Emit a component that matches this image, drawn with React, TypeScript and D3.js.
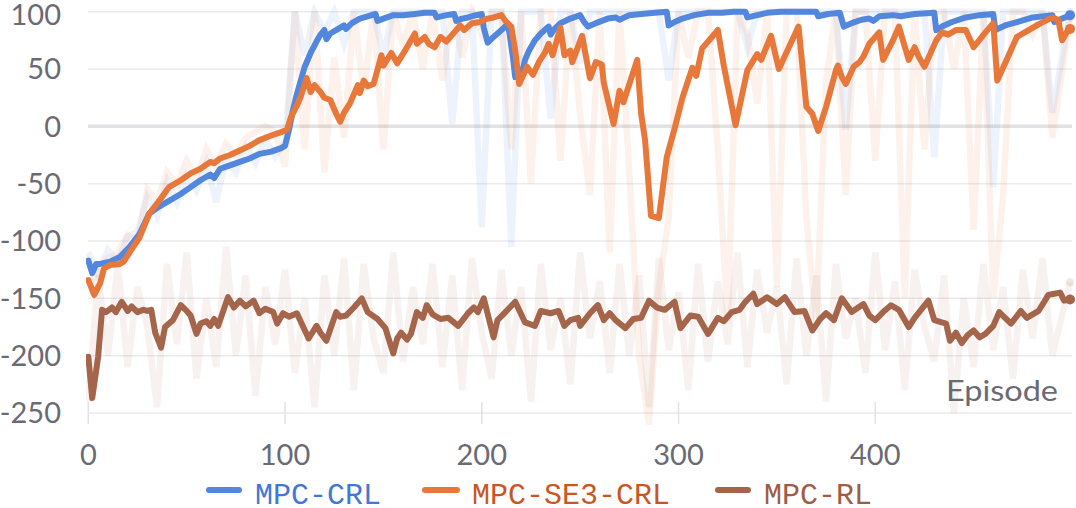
import React from 'react';
import * as d3 from 'd3';

const xTicks = [0, 100, 200, 300, 400];
const yTicks = [100, 50, 0, -50, -100, -150, -200, -250];
const seriesNames = ['MPC-CRL', 'MPC-SE3-CRL', 'MPC-RL'];
const axisTitle = 'Episode';

// smoothed series: [episode, reward]
const crlSmooth: [number, number][] = [
  [0,-117],[2,-128],[4,-120],[6,-120],[11,-118],[16,-114],[21,-105],[26,-94],[31,-76],[36,-70],[41,-65],[47,-59],[52,-53],[57,-47],[62,-42],[64,-45],[67,-37],[72,-34],[77,-31],[82,-28],[87,-24],[93,-22],[98,-19],[100,-17],[102,-3],[104,14],[106,28],[108,40],[110,52],[113,64],[116,74],[118,80],[120,84],[121,76],[123,81],[127,85],[130,88],[131,85],[134,90],[138,94],[142,96],[146,98],[147,92],[150,94],[155,97],[160,97],[166,98],[171,99],[176,99],[177,95],[182,97],[186,98],[187,92],[190,94],[193,95],[197,97],[200,98],[201,86],[203,73],[206,78],[210,84],[213,89],[214,82],[216,58],[217,43],[220,44],[222,58],[224,66],[227,75],[230,81],[234,87],[235,80],[237,85],[240,90],[245,94],[250,97],[252,91],[254,87],[258,90],[264,94],[268,95],[270,93],[275,97],[281,98],[288,99],[294,100],[295,88],[298,91],[302,94],[308,97],[315,99],[322,99],[328,100],[334,100],[335,95],[340,97],[345,99],[352,100],[362,100],[370,100],[371,96],[376,98],[382,99],[384,87],[388,90],[393,93],[397,94],[399,92],[402,96],[409,97],[413,96],[420,98],[430,99],[431,84],[435,88],[439,91],[446,95],[453,97],[460,98],[461,84],[466,88],[472,91],[480,95],[490,97],[491,91],[495,94],[499,97]
];

const se3Smooth: [number, number][] = [
  [0,-134],[3,-147],[6,-137],[8,-124],[11,-121],[16,-120],[18,-118],[21,-110],[26,-97],[31,-76],[36,-65],[41,-53],[47,-47],[52,-41],[57,-37],[62,-31],[64,-32],[67,-28],[72,-25],[77,-21],[82,-17],[87,-12],[93,-8],[98,-5],[101,-3],[103,8],[106,18],[108,26],[111,42],[113,30],[115,36],[118,30],[120,25],[123,23],[126,11],[128,4],[130,12],[133,20],[137,36],[138,29],[140,40],[142,35],[145,37],[149,62],[150,53],[154,64],[157,55],[161,66],[166,81],[167,72],[171,78],[173,72],[176,69],[179,78],[182,74],[186,82],[189,88],[191,84],[195,90],[199,91],[203,94],[206,95],[210,97],[212,92],[215,87],[217,66],[219,37],[223,52],[226,45],[229,56],[232,64],[234,72],[236,62],[240,86],[242,62],[245,66],[246,56],[251,79],[255,42],[258,56],[261,54],[262,38],[267,2],[270,31],[272,21],[279,58],[281,11],[283,-12],[286,-78],[290,-80],[294,-27],[298,-2],[302,25],[307,51],[309,44],[312,68],[317,78],[320,84],[323,53],[329,1],[335,49],[340,63],[342,58],[347,79],[351,50],[361,87],[365,17],[368,11],[371,-4],[375,17],[380,49],[381,53],[383,43],[385,37],[389,52],[392,56],[394,61],[397,72],[402,82],[404,58],[409,75],[412,87],[417,58],[420,69],[422,61],[425,52],[431,75],[434,82],[437,80],[441,84],[446,84],[450,69],[456,82],[460,90],[462,40],[466,55],[472,78],[478,84],[483,89],[490,95],[493,93],[495,75],[498,84],[499,85]
];

const rlSmooth: [number, number][] = [
  [0,-201],[2,-237],[5,-201],[7,-160],[9,-162],[12,-158],[14,-162],[17,-153],[20,-161],[22,-157],[25,-162],[28,-160],[30,-161],[32,-160],[34,-180],[37,-193],[39,-175],[43,-169],[47,-156],[50,-161],[52,-165],[55,-181],[57,-172],[60,-170],[62,-174],[64,-168],[66,-174],[71,-149],[74,-158],[77,-152],[80,-157],[84,-152],[87,-163],[90,-159],[94,-162],[96,-172],[99,-163],[102,-166],[106,-163],[112,-185],[116,-174],[118,-180],[121,-187],[126,-162],[128,-166],[131,-165],[135,-158],[139,-150],[142,-162],[147,-168],[151,-176],[155,-198],[157,-185],[159,-180],[162,-186],[164,-181],[167,-162],[170,-167],[172,-156],[175,-164],[179,-168],[183,-167],[188,-174],[193,-163],[196,-158],[198,-162],[201,-150],[206,-184],[208,-169],[212,-162],[217,-153],[222,-171],[227,-174],[230,-161],[235,-163],[239,-161],[242,-174],[245,-169],[249,-167],[250,-174],[255,-163],[259,-156],[262,-169],[265,-163],[268,-169],[273,-176],[277,-168],[281,-167],[285,-152],[289,-158],[293,-160],[298,-153],[301,-176],[306,-165],[310,-166],[315,-181],[320,-167],[323,-170],[327,-162],[331,-160],[334,-153],[338,-146],[340,-155],[345,-149],[350,-155],[354,-149],[359,-162],[364,-161],[368,-178],[372,-168],[375,-163],[379,-169],[383,-150],[388,-162],[394,-155],[397,-165],[400,-169],[404,-162],[408,-156],[412,-160],[417,-175],[420,-167],[427,-152],[430,-169],[436,-172],[438,-187],[441,-180],[444,-189],[447,-182],[450,-178],[453,-184],[456,-181],[460,-174],[463,-162],[466,-167],[469,-172],[474,-161],[477,-167],[483,-161],[488,-147],[491,-146],[494,-145],[496,-152],[499,-151]
];

// raw (unsmoothed) values, one every 5 episodes
const rawEpisodes = [0,5,10,15,20,25,30,35,40,45,50,55,60,65,70,75,80,85,90,95,100,105,110,115,120,125,130,135,140,145,150,155,160,165,170,175,180,185,190,195,200,205,210,215,220,225,230,235,240,245,250,255,260,265,270,275,280,285,290,295,300,305,310,315,320,325,330,335,340,345,350,355,360,365,370,375,380,385,390,395,400,405,410,415,420,425,430,435,440,445,450,455,460,465,470,475,480,485,490,499];

const crlRaw = [-110,-128,-108,-118,-96,-92,-62,-78,-48,-66,-42,-56,-32,-66,-28,-40,-18,-32,-12,-26,-14,100,62,100,82,100,72,100,100,100,62,100,100,100,100,100,100,2,100,100,-88,100,100,-105,100,100,100,7,100,100,55,100,100,100,100,100,100,100,100,40,100,100,100,100,100,100,100,69,100,100,100,100,100,100,100,100,100,-3,100,100,100,100,100,100,100,100,-27,100,100,100,100,100,-53,100,100,100,100,100,12,100];

const se3Raw = [-140,-125,-115,-110,-95,-100,-55,-65,-40,-50,-30,-45,-20,-35,-15,-25,-10,-5,0,-5,-35,100,-20,100,-40,60,-10,100,30,100,-20,100,70,100,50,100,40,100,60,100,80,100,100,-20,100,-50,100,100,-30,100,10,-60,100,-110,100,-40,-200,-260,-140,-80,100,60,100,100,-20,-170,100,80,20,100,-140,100,100,-80,-170,40,100,-60,100,100,-30,100,100,-150,100,-20,100,100,50,100,-90,100,-150,-60,100,100,80,100,-10,95];

const rlRaw = [-240,-130,-200,-120,-210,-140,-175,-245,-120,-190,-110,-220,-150,-210,-105,-200,-130,-235,-140,-190,-125,-215,-150,-245,-130,-200,-115,-230,-120,-185,-215,-110,-205,-140,-190,-120,-210,-130,-230,-115,-180,-220,-125,-200,-140,-240,-120,-195,-150,-225,-110,-185,-135,-215,-120,-200,-130,-245,-115,-195,-145,-230,-120,-205,-135,-190,-110,-210,-125,-180,-140,-225,-115,-200,-130,-240,-120,-185,-150,-215,-110,-195,-135,-230,-125,-175,-205,-130,-250,-150,-210,-120,-195,-140,-220,-125,-185,-115,-200,-136];

const colors = ['#5387dd', '#e8773a', '#a4654b'];
const textColors = ['#3f78d6', '#c9561f', '#a05c43'];

export default function App() {
  const W = 1076, H = 508;
  const x = d3.scaleLinear().domain([0, 500]).range([88.3, 1072]);
  const y = d3.scaleLinear().domain([-250, 100]).range([413, 11.7]);
  const line = d3.line<[number, number]>().x(d => x(d[0])).y(d => y(d[1]));
  const rawPts = (vals: number[]) => vals.map((v, i) => [rawEpisodes[i], v] as [number, number]);
  const smooth = [crlSmooth, se3Smooth, rlSmooth];
  const raws = [crlRaw, se3Raw, rlRaw];
  const legendX = [[209, 239, 255], [425, 457, 472], [718, 748, 764]];
  const tickFont = "Lato, 'Open Sans', sans-serif";
  return (
    <svg width={W} height={H} style={{ position: 'absolute', left: 0, top: 0, background: '#fff' }}>
      <defs>
        <clipPath id="plot"><rect x={86} y={4} width={990} height={436} /></clipPath>
      </defs>
      {yTicks.map(t => (
        <line key={'g' + t} x1={88} x2={1072} y1={y(t)} y2={y(t)}
          stroke={t === 0 ? '#e2e2e4' : '#ebebed'} strokeWidth={t === 0 ? 3.5 : 1.5} />
      ))}
      {xTicks.map(t => (
        <line key={'xt' + t} x1={x(t)} x2={x(t)} y1={402} y2={424} stroke="#e2e2e4" strokeWidth={1.5} />
      ))}
      <g clipPath="url(#plot)">
        {raws.map((r, i) => (
          <path key={'r' + i} d={line(rawPts(r)) || ''} fill="none" stroke={colors[i]}
            strokeOpacity={i === 2 ? 0.09 : 0.1} strokeWidth={6.5} strokeLinejoin="miter" />
        ))}
        {smooth.map((s, i) => (
          <path key={'s' + i} d={line(s) || ''} fill="none" stroke={colors[i]} strokeWidth={6}
            strokeLinejoin="round" strokeLinecap="round" />
        ))}
        {raws.map((r, i) => (
          <circle key={'rc' + i} cx={x(rawEpisodes[rawEpisodes.length - 1])} cy={y(r[r.length - 1])} r={4}
            fill={colors[i]} fillOpacity={0.15} />
        ))}
        {smooth.map((s, i) => (
          <circle key={'c' + i} cx={x(s[s.length - 1][0])} cy={y(s[s.length - 1][1])} r={5} fill={colors[i]} />
        ))}
      </g>
      {yTicks.map(t => (
        <text key={'yl' + t} x={61} y={Math.max(y(t), 14.5)} dy="0.36em" textAnchor="end" fontFamily={tickFont}
          fontSize={29} fill="#6a6a75">{t}</text>
      ))}
      {xTicks.map(t => (
        <text key={'xl' + t} x={x(t)} y={465} textAnchor="middle" fontFamily={tickFont}
          fontSize={29} fill="#6a6a75">{t}</text>
      ))}
      <text x={946} y={401} fontFamily={tickFont} fontSize={28} textLength={112} lengthAdjust="spacingAndGlyphs"
        fill="#6a6a75">{axisTitle}</text>
      {seriesNames.map((n, i) => (
        <g key={'lg' + i}>
          <line x1={legendX[i][0]} x2={legendX[i][1]} y1={490} y2={490} stroke={colors[i]} strokeWidth={6} strokeLinecap="round" />
          <text x={legendX[i][2]} y={503.5} fontFamily="'Liberation Mono', 'DejaVu Sans Mono', monospace" fontSize={30}
            fill={textColors[i]}>{n}</text>
        </g>
      ))}
    </svg>
  );
}
